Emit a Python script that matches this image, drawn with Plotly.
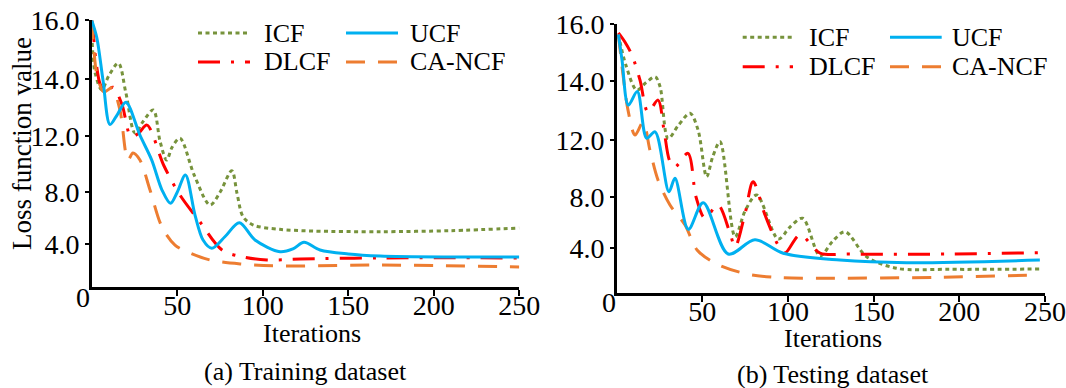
import numpy as np
import plotly.graph_objects as go

# ---------------- data ----------------
ITER_TICKS = [50, 100, 150, 200, 250]
LOSS_TICKS = [0, 4, 8, 12, 14, 16]
LOSS_TICK_TEXT = ["0", "4.0", "8.0", "12.0", "14.0", "16.0"]
# the original figure uses a non-uniform loss scale: axis position of each tick
POS_TRAIN = [0, 2.577, 5.693, 9.066, 12.50, 16]
POS_TEST = [0, 2.697, 5.734, 9.110, 12.606, 16]

SERIES = ["ICF", "UCF", "DLCF", "CA-NCF"]

# (a) Training dataset
tr_icf_x = [0, 0.5, 2, 5.8, 10, 15.6, 20, 25.3, 30, 36, 40, 43.8, 47, 51.6, 60, 69.2, 75, 81.9, 85, 88.5, 94.5, 110, 129.5, 168.5, 210, 250]
tr_icf_y = [16, 15.0, 14.2, 13.61, 14.1, 14.53, 13.5, 12.10, 12.5, 12.91, 11.6, 10.29, 11.2, 11.84, 9.2, 7.02, 8.0, 9.53, 7.9, 6.12, 5.48, 5.15, 5.02, 4.97, 5.05, 5.25]

tr_ucf_x = [0, 3, 6.6, 10.7, 15, 20, 28.2, 35.1, 41.1, 46.1, 50, 54.8, 60.4, 65.1, 70.2, 78, 86.3, 95.5, 110.1, 118, 124.1, 133.5, 150, 168.6, 209.5, 250]
tr_ucf_y = [16, 15.4, 13.95, 12.4, 12.75, 13.18, 12.03, 10.29, 8.16, 7.15, 8.0, 9.23, 6.25, 4.33, 3.63, 4.6, 5.66, 4.33, 3.31, 3.6, 4.15, 3.47, 3.1, 2.91, 2.82, 2.82]

tr_dlcf_x = [0, 1, 2.5, 5, 8, 12.5, 17.7, 23, 27.5, 32.3, 42.3, 51.6, 63.3, 76.2, 88.5, 102.5, 122, 168.6, 250]
tr_dlcf_y = [16, 15.5, 14.6, 13.8, 13.55, 13.7, 13.1, 11.95, 12.1, 12.38, 9.87, 7.79, 5.72, 3.47, 2.82, 2.54, 2.63, 2.73, 2.73]

tr_canf_x = [0, 1.3, 3.1, 7.2, 11.9, 16.5, 21.2, 24.1, 28.2, 34.1, 41.1, 48.7, 57.5, 69.2, 86.8, 110, 168.6, 250]
tr_canf_y = [16, 14.98, 14.13, 13.54, 13.68, 12.91, 10.29, 10.79, 10.29, 8.16, 5.33, 3.93, 3.19, 2.54, 2.17, 1.98, 2.07, 1.89]

# (b) Testing dataset
te_icf_x = [1, 5.4, 11.7, 17, 22.4, 25.3, 30, 36, 42.8, 47.5, 52.5, 56, 60.3, 69.1, 75, 81.7, 94.3, 101, 108.5, 118.7, 126, 133.3, 145.9, 163.4, 194.5, 247]
te_icf_y = [15.64, 14.56, 13.70, 13.95, 14.16, 13.82, 12.05, 12.5, 12.91, 12.34, 9.41, 10.8, 11.88, 4.86, 6.9, 8.12, 4.68, 5.6, 6.31, 3.27, 4.5, 5.25, 3.21, 2.18, 2.09, 2.12]

te_ucf_x = [1, 3.1, 6.8, 12.0, 17.5, 22.4, 30.5, 34.0, 41.8, 50.5, 65.1, 80.7, 97.2, 130.3, 169.3, 247]
te_ucf_y = [15.64, 14.75, 13.19, 13.65, 12.06, 12.28, 8.35, 9.30, 5.44, 7.53, 3.44, 4.62, 3.51, 2.91, 2.68, 2.91]

te_dlcf_x = [1, 4.8, 8.9, 13.6, 18.3, 24.1, 27.6, 31, 34, 41.6, 46.3, 51.5, 59.1, 66.1, 69.1, 75, 79.6, 86.6, 94.1, 98.2, 107, 118.7, 136, 194.6, 247]
te_dlcf_y = [15.7, 15.38, 14.92, 14.04, 12.95, 13.36, 12.34, 10.5, 10.1, 11.06, 7.98, 6.33, 7.35, 5.15, 4.06, 6.72, 9.05, 6.56, 4.24, 3.53, 5.0, 3.53, 3.44, 3.44, 3.56]

te_canf_x = [1, 3.7, 6.6, 10.7, 15.4, 19.4, 24.1, 31.1, 39.9, 46.9, 58.4, 75.9, 93.4, 112.8, 188.7, 247]
te_canf_y = [15.64, 14.22, 13.02, 12.17, 12.61, 11.29, 9.18, 7.35, 5.78, 3.80, 2.56, 1.68, 1.37, 1.30, 1.39, 1.59]

# ---------------- styling ----------------
W, H = 1066, 388
FONT = "Liberation Serif"
STYLE = {
    "ICF": dict(color="#77933C", width=3, dash="4px,3.5px"),
    "UCF": dict(color="#00B0F0", width=3, dash="solid"),
    "DLCF": dict(color="#FF0000", width=3, dash="22px,11px,3px,11px"),
    "CA-NCF": dict(color="#ED7D31", width=3, dash="19px,13px"),
}

def px_x(p):
    return p / W

def px_y(p):
    return 1 - p / H

def scale(vals, pos):
    return np.interp(np.asarray(vals, float), LOSS_TICKS, pos)

fig = go.Figure()

panels = [
    ("x", "y", POS_TRAIN, {
        "ICF": (tr_icf_x, tr_icf_y), "UCF": (tr_ucf_x, tr_ucf_y),
        "DLCF": (tr_dlcf_x, tr_dlcf_y), "CA-NCF": (tr_canf_x, tr_canf_y)}),
    ("x2", "y2", POS_TEST, {
        "ICF": (te_icf_x, te_icf_y), "UCF": (te_ucf_x, te_ucf_y),
        "DLCF": (te_dlcf_x, te_dlcf_y), "CA-NCF": (te_canf_x, te_canf_y)}),
]

for xa, ya, pos, data in panels:
    for name in ["ICF", "DLCF", "CA-NCF", "UCF"]:
        xs, ys = data[name]
        fig.add_trace(go.Scatter(
            x=xs, y=scale(ys, pos), mode="lines", name=name,
            line=dict(shape="spline", smoothing=0.9, **STYLE[name]),
            xaxis=xa, yaxis=ya, showlegend=False, cliponaxis=False,
            hoverinfo="skip"))

axis_common = dict(showline=True, linecolor="black", linewidth=2.5, showgrid=False,
                   zeroline=False, ticks="outside", tickcolor="black", tickwidth=2,
                   automargin=False, ticklabeloverflow="allow",
                   tickfont=dict(family=FONT, size=28, color="black"))

fig.update_layout(
    template="none",
    width=W, height=H, margin=dict(l=0, r=0, t=0, b=0, pad=0, autoexpand=False),
    font=dict(family=FONT, color="black"),
    paper_bgcolor="white", plot_bgcolor="white", showlegend=False,
    xaxis=dict(domain=[px_x(91.7), px_x(519.3)], range=[0, 250], tickvals=ITER_TICKS,
               anchor="y", ticklen=6, ticklabelstandoff=-14, **axis_common),
    yaxis=dict(domain=[px_y(287.3), px_y(20.3)], range=[0, 16],
               tickvals=POS_TRAIN[1:], ticktext=LOSS_TICK_TEXT[1:],
               anchor="x", ticklen=4, **axis_common),
    xaxis2=dict(domain=[px_x(616.7), px_x(1045)], range=[0, 250], tickvals=ITER_TICKS,
                anchor="y2", ticklen=6, ticklabelstandoff=-14, **axis_common),
    yaxis2=dict(domain=[px_y(293), px_y(24.3)], range=[0, 16],
                tickvals=POS_TEST[1:], ticktext=LOSS_TICK_TEXT[1:],
                anchor="x2", ticklen=4, **axis_common),
)

def text(x, y, s, size=26, xanchor="center", angle=0):
    fig.add_annotation(x=px_x(x), y=px_y(y), xref="paper", yref="paper", text=s,
                       showarrow=False, xanchor=xanchor, yanchor="middle", textangle=angle,
                       font=dict(family=FONT, size=size, color="black"))

# origin labels, axis titles and captions
text(83, 297, "0", 28)
text(609, 302, "0", 28)
text(22, 144, "Loss function value", 27, angle=-90)
text(312, 333, "Iterations", 26)
text(833, 338, "Iterations", 26)
text(305, 371, "(a) Training dataset", 26)
text(833, 374, "(b) Testing dataset", 26)

# legends (2 x 2 grid in each panel)
def legend_item(x0, x1, y, tx, name):
    st = STYLE[name]
    fig.add_shape(type="line", xref="paper", yref="paper",
                  x0=px_x(x0), x1=px_x(x1), y0=px_y(y), y1=px_y(y),
                  line=dict(color=st["color"], width=st["width"], dash=st["dash"]))
    text(tx, y, name, 26, xanchor="left")

for (c1, c2, r1, r2) in [((198, 250, 262), (346, 398, 408), 33, 62),
                          ((742.7, 793, 807), (890, 941.7, 950), 37.3, 66.7)]:
    legend_item(c1[0], c1[1], r1, c1[2], "ICF")
    legend_item(c2[0], c2[1], r1, c2[2], "UCF")
    legend_item(c1[0], c1[1], r2, c1[2], "DLCF")
    legend_item(c2[0], c2[1], r2, c2[2], "CA-NCF")

fig.write_html("out.html",
               config={"displayModeBar": False, "staticPlot": True},
               post_script="document.body.style.margin='0';"
                           "document.body.style.overflow='hidden';")
